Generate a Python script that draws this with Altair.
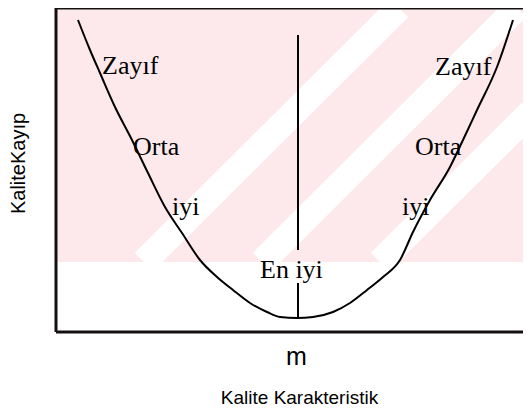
import altair as alt
import pandas as pd

# Quality-loss curve (arbitrary units)
curve_x = [22, 34, 44, 59, 76, 92, 109, 126, 144, 161, 177, 194, 211, 224, 241, 257, 277, 294, 311, 327, 344, 357, 374, 394, 407, 421, 441, 457]
curve_y = [312, 282, 259, 225, 192, 159, 125, 99, 72, 55, 42, 29, 20, 15, 14, 15, 20, 29, 42, 55, 72, 100, 132, 165, 192, 222, 265, 312]

# Region labels
label_text = ["Zayıf", "Orta", "iyi", "Zayıf", "Orta", "iyi", "En iyi"]
label_x = [46, 77, 116, 379, 359, 346, 204]
label_y = [258, 177, 117, 257, 177, 117, 54]

# Target value line (m)
target_x = [242, 242]
target_top = [297, 49]
target_bottom = [82, 15]
tick_values = [240]
tick_label = "m"

X_DOMAIN = [0, 467]
Y_DOMAIN = [0, 324]

curve_df = pd.DataFrame({"x": curve_x, "y": curve_y})
label_df = pd.DataFrame({"t": label_text, "x": label_x, "y": label_y})
target_df = pd.DataFrame({"x": target_x, "y": target_top, "y2": target_bottom})
one = pd.DataFrame({"d": [0]})

xs = alt.Scale(domain=X_DOMAIN, nice=False, zero=False)
ys = alt.Scale(domain=Y_DOMAIN, nice=False, zero=False)

x_axis = alt.Axis(
    values=tick_values,
    labelExpr="'" + tick_label + "'",
    grid=False,
    ticks=False,
    tickSize=0,
    domain=False,
    labelFont="Liberation Sans",
    labelFontSize=25,
    labelColor="black",
    labelBaseline="alphabetic",
    labelPadding=32,
    title="Kalite Karakteristik",
    titleFont="Liberation Sans",
    titleFontSize=19,
    titleFontWeight="normal",
    titleColor="black",
    titleX=243,
    titleY=71,
    titleAlign="center",
    titleBaseline="alphabetic",
)
y_axis = alt.Axis(
    labels=False,
    ticks=False,
    domain=False,
    grid=False,
    title="KaliteKayıp",
    titleFont="Liberation Sans",
    titleFontSize=20,
    titleFontWeight="normal",
    titleColor="black",
    titleAngle=270,
    titleX=-32,
    titleY=155,
    titleAlign="center",
    titleBaseline="alphabetic",
)

pink = alt.Chart(one).mark_rect(color="#fde8eb").encode(
    x=alt.value(1.5), x2=alt.value(467), y=alt.value(1.5), y2=alt.value(254)
)


def stripe(x1, y1, x2, y2):
    return alt.Chart(one).mark_rule(color="white", strokeWidth=26, strokeCap="butt").encode(
        x=alt.value(x1), y=alt.value(y1), x2=alt.value(x2), y2=alt.value(y2)
    )


stripes = [stripe(88, 254, 343, 0), stripe(206, 254, 461, 0), stripe(324, 254, 475, 104)]

target = alt.Chart(target_df).mark_rule(color="black", strokeWidth=2).encode(
    x=alt.X("x:Q", scale=xs, axis=x_axis),
    y=alt.Y("y:Q", scale=ys, axis=y_axis),
    y2="y2:Q",
)

curve = alt.Chart(curve_df).mark_line(color="black", strokeWidth=2, interpolate="monotone").encode(
    x=alt.X("x:Q", scale=xs, axis=x_axis),
    y=alt.Y("y:Q", scale=ys, axis=y_axis),
)

labels = alt.Chart(label_df).mark_text(
    font="Liberation Serif", fontSize=26, color="black", align="left", baseline="alphabetic"
).encode(
    x=alt.X("x:Q", scale=xs, axis=x_axis),
    y=alt.Y("y:Q", scale=ys, axis=y_axis),
    text="t:N",
)

frame_color = "#151010"
frame_left = alt.Chart(one).mark_rule(color=frame_color, strokeWidth=3).encode(
    x=alt.value(0), y=alt.value(0), y2=alt.value(324)
)
frame_top = alt.Chart(one).mark_rule(color=frame_color, strokeWidth=3).encode(
    x=alt.value(0), x2=alt.value(467), y=alt.value(0)
)
frame_bottom = alt.Chart(one).mark_rule(color=frame_color, strokeWidth=3).encode(
    x=alt.value(0), x2=alt.value(467), y=alt.value(324)
)

chart = alt.layer(
    pink, *stripes, target, curve, labels, frame_left, frame_top, frame_bottom
).properties(
    width=467,
    height=324,
    padding={"left": 48, "top": 0, "right": 0, "bottom": 76},
    autosize=alt.AutoSizeParams(type="none"),
    background="white",
).configure_view(strokeWidth=0)

chart.save("out.html", embed_options={"renderer": "svg", "actions": False})
